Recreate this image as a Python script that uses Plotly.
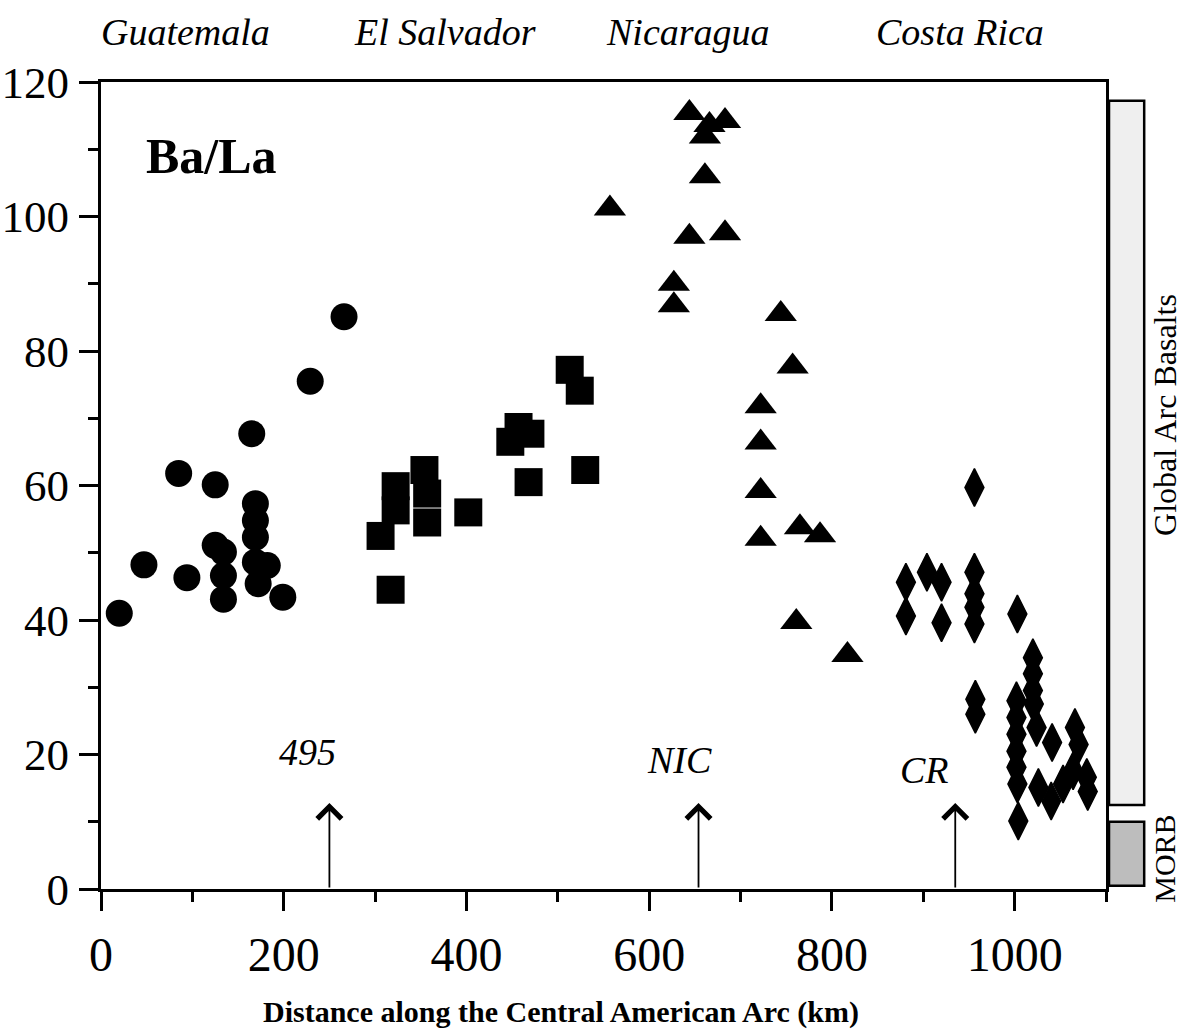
import plotly.graph_objects as go

# ---- data ----
gua_x = [20, 47, 94, 85, 125, 165, 229, 266, 125, 134, 134, 134, 169, 169, 169, 169, 182, 172, 199]
gua_y = [41.0, 48.2, 46.3, 61.8, 60.1, 67.7, 75.5, 85.1, 51.1, 50.1, 46.6, 43.1, 57.3, 54.8, 52.3, 48.6, 48.1, 45.4, 43.4]

sal_x = [306, 317, 322.5, 322.5, 354, 357, 357, 402, 448, 457, 470, 468, 513, 524, 530]
sal_y = [52.5, 44.5, 59.9, 56.3, 62.3, 58.8, 54.5, 56.0, 66.5, 68.7, 67.7, 60.5, 77.2, 74.1, 62.3]

nic_x = [557, 644, 666, 683, 661, 661, 644, 683, 627, 627, 744, 757, 722, 722, 722, 722, 765, 787, 761, 817]
nic_y = [101.2, 115.4, 113.6, 114.2, 111.9, 106.0, 97.0, 97.5, 90.0, 86.8, 85.5, 77.7, 71.8, 66.4, 59.2, 52.1, 53.8, 52.6, 39.7, 34.8]

cr_x = [956, 881, 904, 920, 881, 920, 956, 956, 956, 956, 1003, 957, 957, 1020, 1020, 1020, 1021,
        1002, 1002, 1002, 1002, 1002, 1003, 1004, 1024, 1041, 1066, 1070, 1079, 1080, 1026, 1040, 1053, 1064]
cr_y = [59.7, 45.6, 47.1, 45.6, 40.6, 39.6, 47.1, 43.9, 41.9, 39.4, 40.9, 28.2, 26.0, 34.4, 32.0, 29.5, 27.5,
        28.0, 25.5, 23.0, 20.5, 18.1, 15.6, 10.1, 24.0, 21.8, 24.0, 21.5, 16.6, 14.5, 15.1, 13.1, 15.6, 17.6]

countries = ["Guatemala", "El Salvador", "Nicaragua", "Costa Rica"]
country_x = [92, 377, 642, 940]

arrow_labels = ["495", "NIC", "CR"]
arrow_x = [250, 654, 935]
arrow_label_x = [226, 633, 901]
arrow_label_y = [20.4, 19.2, 17.7]
arrow_top = 12.8

arc_range = [12.5, 117.2]
morb_range = [0.5, 10.0]

FONT = "Liberation Serif, Times New Roman, serif"

fig = go.Figure()
mk = dict(color="black", line=dict(width=0))
fig.add_trace(go.Scatter(x=gua_x, y=gua_y, mode="markers", marker=dict(symbol="circle", size=27, **mk), name="Guatemala"))
fig.add_trace(go.Scatter(x=sal_x, y=sal_y, mode="markers", marker=dict(symbol="square", size=28, **mk), name="El Salvador"))
fig.add_trace(go.Scatter(x=nic_x, y=nic_y, mode="markers", marker=dict(symbol="triangle-up", size=28, **mk), name="Nicaragua"))
fig.add_trace(go.Scatter(x=cr_x, y=cr_y, mode="markers",
                         marker=dict(symbol="diamond-tall", size=27, color="black", line=dict(width=1.5, color="black")),
                         name="Costa Rica"))

annotations = []
for name, cx in zip(countries, country_x):
    annotations.append(dict(text=f"<i>{name}</i>", x=cx, xref="x", y=1.062, yref="paper",
                            xanchor="center", yanchor="middle",
                            showarrow=False, font=dict(family=FONT, size=38, color="black")))
for lab, ax_, lx, ly in zip(arrow_labels, arrow_x, arrow_label_x, arrow_label_y):
    annotations.append(dict(x=ax_, y=arrow_top, xref="x", yref="y", ax=ax_, ay=0, axref="x", ayref="y",
                            showarrow=True, arrowhead=4, arrowsize=2.6, arrowwidth=1.8, arrowcolor="black", text=""))
    annotations.append(dict(text=f"<i>{lab}</i>", x=lx, y=ly, xref="x", yref="y", showarrow=False,
                            xanchor="center", yanchor="middle",
                            font=dict(family=FONT, size=38, color="black")))
annotations.append(dict(text="<b>Ba/La</b>", x=121, y=109, xref="x", yref="y", showarrow=False,
                        xanchor="center", yanchor="middle",
                        font=dict(family=FONT, size=50, color="black")))
annotations.append(dict(text="<b>Distance along the Central American Arc (km)</b>", x=0.458, y=-0.152,
                        xref="paper", yref="paper", showarrow=False, xanchor="center", yanchor="middle",
                        font=dict(family=FONT, size=30, color="black")))
annotations.append(dict(text="Global Arc Basalts", x=1.0587, y=70.5, xref="paper", yref="y", textangle=-90,
                        xanchor="center", yanchor="middle",
                        showarrow=False, font=dict(family=FONT, size=32, color="black")))
annotations.append(dict(text="MORB", x=1.0587, y=4.5, xref="paper", yref="y", textangle=-90,
                        xanchor="center", yanchor="middle",
                        showarrow=False, font=dict(family=FONT, size=30, color="black")))

shapes = [
    dict(type="rect", xref="paper", yref="y", x0=1.003, x1=1.038, y0=arc_range[0], y1=arc_range[1],
         fillcolor="#efefef", line=dict(color="black", width=2.5)),
    dict(type="rect", xref="paper", yref="y", x0=1.003, x1=1.038, y0=morb_range[0], y1=morb_range[1],
         fillcolor="#bdbdbd", line=dict(color="black", width=2.5)),
]

axis_common = dict(showgrid=False, zeroline=False, showline=True, linecolor="black", linewidth=3,
                   mirror=True, ticks="outside", ticklen=19, tickwidth=2.5, tickcolor="black",
                   automargin=False)

fig.update_layout(
    width=1185, height=1032,
    margin=dict(l=101, r=79, t=82, b=143),
    plot_bgcolor="white", paper_bgcolor="white",
    showlegend=False,
    xaxis=dict(range=[0, 1100], tickmode="array", tickvals=[0, 200, 400, 600, 800, 1000],
               minor=dict(ticks="outside", ticklen=10, tickwidth=2.5, tickcolor="black", dtick=100, tick0=0),
               ticklabelstandoff=2, tickfont=dict(family=FONT, size=48, color="black"), **axis_common),
    yaxis=dict(range=[0, 120], dtick=20, tick0=0,
               minor=dict(ticks="outside", ticklen=10, tickwidth=2.5, tickcolor="black", dtick=10, tick0=0),
               ticklabelstandoff=1, tickfont=dict(family=FONT, size=45, color="black"), **axis_common),
    annotations=annotations,
    shapes=shapes,
)

fig.write_html("out.html")
